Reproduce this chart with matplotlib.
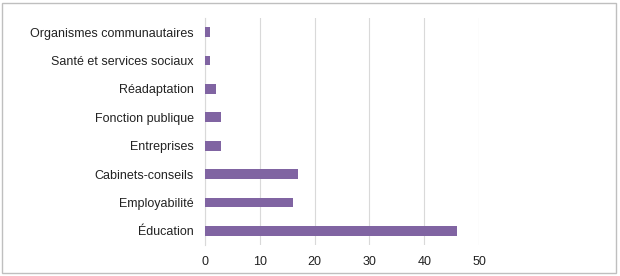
import matplotlib.pyplot as plt
from matplotlib.patches import Rectangle

categories = ["Éducation", "Employabilité", "Cabinets-conseils", "Entreprises",
              "Fonction publique", "Réadaptation", "Santé et services sociaux",
              "Organismes communautaires"]
values = [46, 16, 17, 3, 3, 2, 1, 1]
xticks = [0, 10, 20, 30, 40, 50]

plt.rcParams['font.family'] = ['Liberation Sans', 'DejaVu Sans']

fig = plt.figure(figsize=(6.2, 2.76), dpi=100)
ax = fig.add_axes([0.3306, 0.1123, 0.4420, 0.8225])

ax.barh(range(len(categories)), values, height=0.34, color='#8064A2', zorder=3)

ax.set_xlim(0, 50)
ax.set_ylim(-0.5, len(categories) - 0.5)
ax.set_yticks(range(len(categories)))
ax.set_yticklabels(categories, fontsize=9, color='#222222')
ax.set_xticks(xticks)
ax.set_xticklabels([str(t) for t in xticks], fontsize=9, color='#222222')
ax.tick_params(length=0, pad=6)
ax.tick_params(axis='y', pad=8)
ax.tick_params(axis='x', pad=8)
ax.grid(axis='x', color='#D9D9D9', linewidth=0.8, zorder=0)
for s in ['top', 'right', 'bottom']:
    ax.spines[s].set_visible(False)
ax.spines['left'].set_color('#D9D9D9')
ax.spines['left'].set_linewidth(0.8)

# cadre autour du graphique
fig.patches.append(Rectangle((0.004, 0.012), 0.99, 0.978, transform=fig.transFigure,
                             fill=False, edgecolor='#BFBFBF', linewidth=1))

fig.savefig('out.png', dpi=100)
